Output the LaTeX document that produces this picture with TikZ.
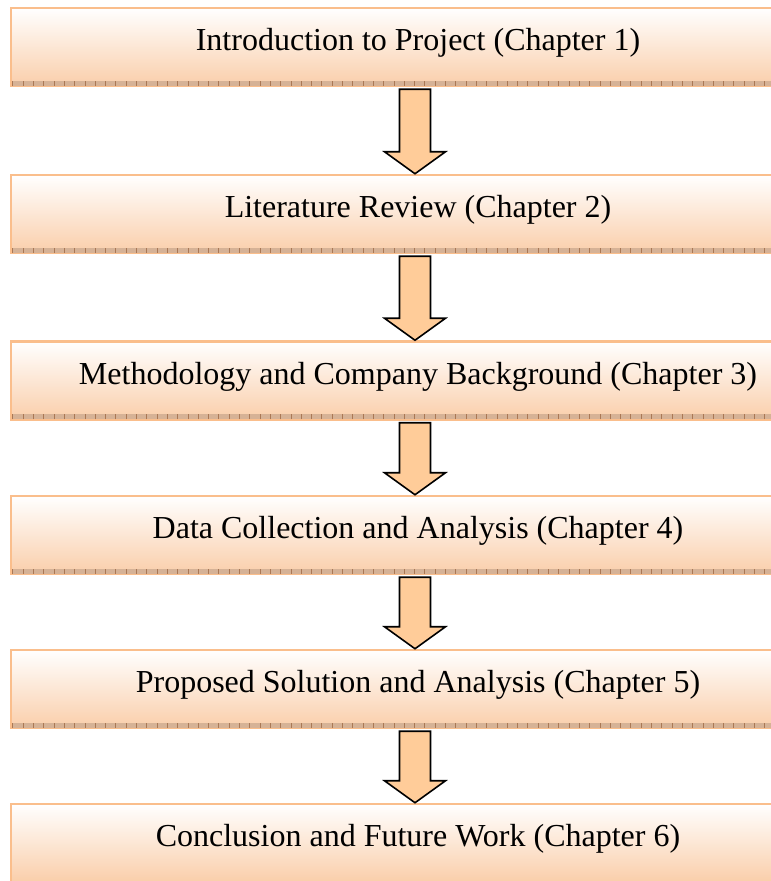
\documentclass[tikz,border=0pt]{standalone}
\usepackage{fontspec}
\setmainfont{Liberation Serif}
\usetikzlibrary{calc}
\definecolor{boxborder}{RGB}{250,190,140}
\definecolor{boxbottom}{RGB}{250,206,170}
\definecolor{shadowtan}{RGB}{214,178,150}
\definecolor{shadowtick}{RGB}{170,120,85}
\definecolor{arrowfill}{RGB}{255,204,153}
\tikzset{
  chapbox/.style={draw=boxborder, line width=2.5pt, top color=white, bottom color=boxbottom,
    minimum width=814pt, minimum height=78pt, inner sep=0pt, text height=22pt, text depth=15pt,
    font=\fontsize{32}{38}\selectfont},
  bigarrow/.style={draw=black, line width=1.6pt, fill=arrowfill, line join=miter},
  shadowband/.style={fill=shadowtan, draw=none}
}
\newcommand\chapshadow[1]{%
  \fill[shadowband] ($(#1.south west)+(3,-1.5)$) rectangle ($(#1.south east)+(0,-6.5)$);
  \foreach \k in {0,...,80} {\draw[shadowtick, line width=0.6pt] ($(#1.south west)+(3+10.3*\k,-1.5)$) -- ++(0,-5);}
}
\newcommand\chaparrow[2]{%
  \draw[bigarrow] let \p1=($(#1.south)+(-3,2)$), \p2=(#2.north) in
    (\x1-15.5pt,\y1) -- (\x1+15.5pt,\y1) -- (\x1+15.5pt,\y2+22pt) -- (\x1+30.5pt,\y2+22pt)
    -- (\x1,\y2) -- (\x1-30.5pt,\y2+22pt) -- (\x1-15.5pt,\y2+22pt) -- cycle;
}
\begin{document}
\begin{tikzpicture}[x=1pt,y=-1pt]
\useasboundingbox (0,0) rectangle (771,881);
\clip (0,0) rectangle (771,881);
\node[chapbox] (b1) at (418,47) {Introduction to Project (Chapter 1)};
\node[chapbox] (b2) at (418,214) {Literature Review (Chapter 2)};
\node[chapbox] (b3) at (418,380.5) {Methodology and Company Background (Chapter 3)};
\node[chapbox] (b4) at (418,535) {Data Collection and Analysis (Chapter 4)};
\node[chapbox] (b5) at (418,689) {Proposed Solution and Analysis (Chapter 5)};
\node[chapbox] (b6) at (418,843) {Conclusion and Future Work (Chapter 6)};
\chapshadow{b1}
\chapshadow{b2}
\chapshadow{b3}
\chapshadow{b4}
\chapshadow{b5}
\chaparrow{b1}{b2}
\chaparrow{b2}{b3}
\chaparrow{b3}{b4}
\chaparrow{b4}{b5}
\chaparrow{b5}{b6}
\end{tikzpicture}
\end{document}
